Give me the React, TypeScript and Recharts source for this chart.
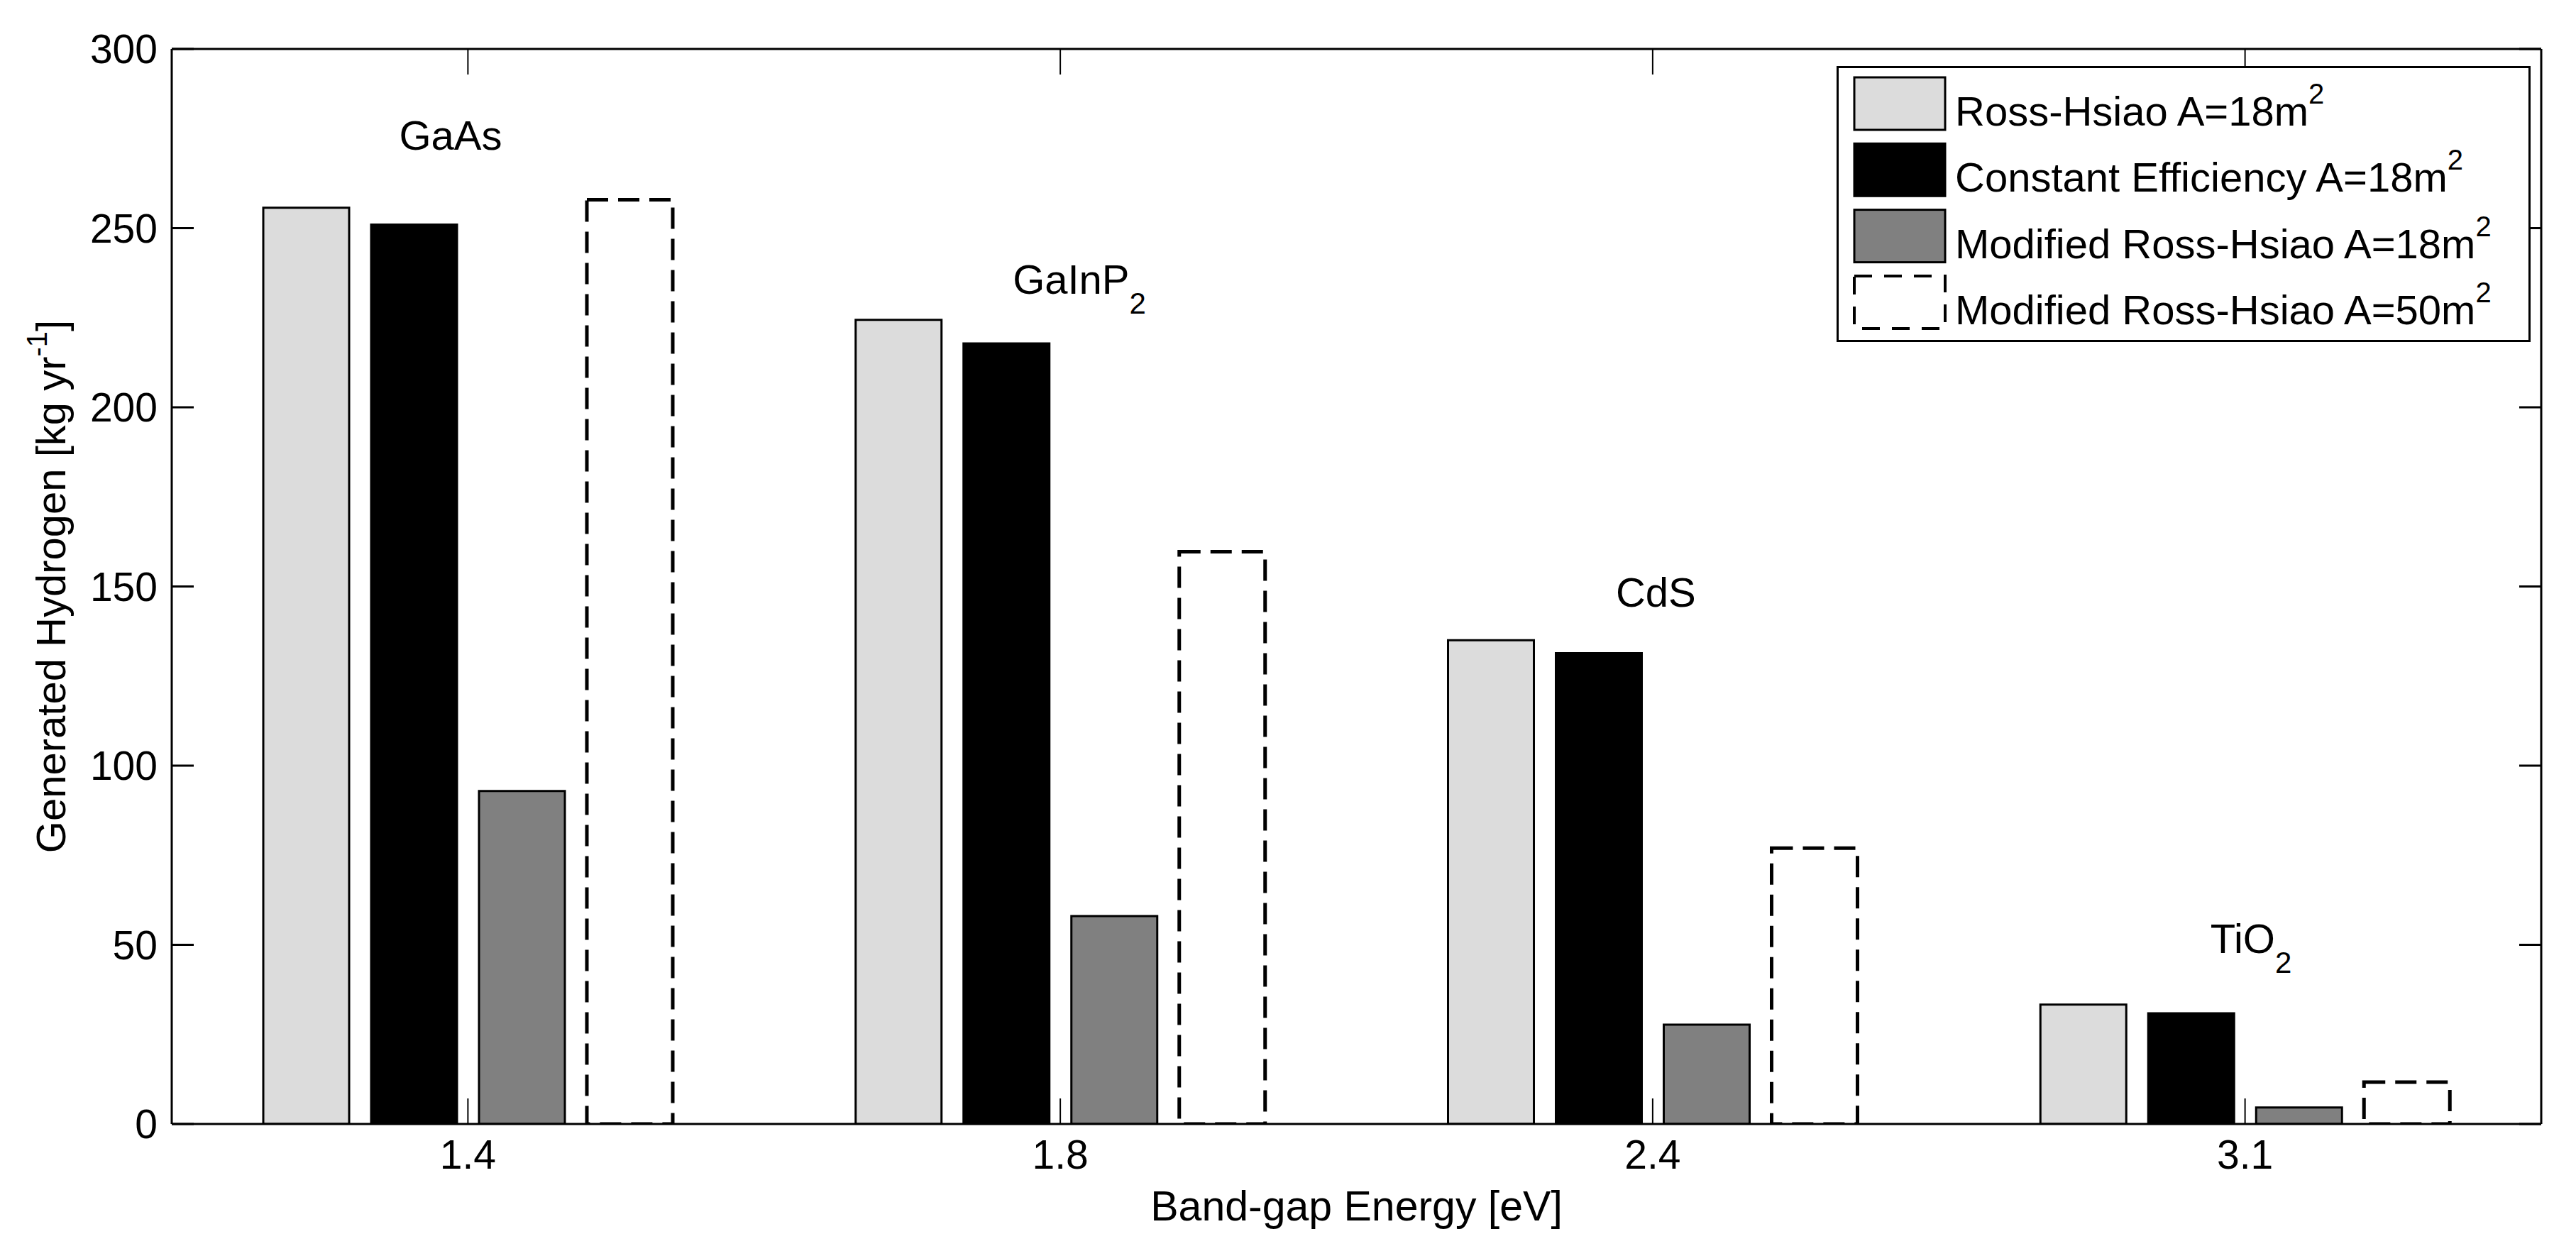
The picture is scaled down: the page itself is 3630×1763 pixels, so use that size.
import React from 'react';
import { BarChart, Bar, XAxis, YAxis, ReferenceDot, Label } from 'recharts';

// ---------- data ----------
const bandGaps = ['1.4', '1.8', '2.4', '3.1'];
const rossHsiao18 = [255.7, 224.4, 135.0, 33.3];
const constantEfficiency18 = [251.0, 217.8, 131.4, 30.9];
const modifiedRossHsiao18 = [92.9, 58.0, 27.7, 4.6];
const modifiedRossHsiao50 = [257.9, 159.7, 77.0, 11.7];
const yTicks = [0, 50, 100, 150, 200, 250, 300];

const materials = ['GaAs', 'GaInP', 'CdS', 'TiO'];
const materialSubscripts = ['', '2', '', '2'];
const materialLabelLevel = [271.9, 231.6, 144.3, 47.8];

const seriesKeys = ['rh18', 'ce18', 'mrh18', 'mrh50'];
const seriesNames = [
  'Ross-Hsiao A=18m',
  'Constant Efficiency A=18m',
  'Modified Ross-Hsiao A=18m',
  'Modified Ross-Hsiao A=50m',
];
const seriesSuperscripts = ['2', '2', '2', '2'];
const xLabel = 'Band-gap Energy [eV]';
const yLabelMain = 'Generated Hydrogen [kg yr';
const yLabelSup = '-1';
const yLabelEnd = ']';

const rows = bandGaps.map((g, i) => ({
  gap: g,
  rh18: rossHsiao18[i],
  ce18: constantEfficiency18[i],
  mrh18: modifiedRossHsiao18[i],
  mrh50: modifiedRossHsiao50[i],
}));

// ---------- styles / layout ----------
const FONT = '"Liberation Sans", Arial, Helvetica, sans-serif';
const W = 3630;
const H = 1763;
const styles = [
  { fill: '#dcdcdc', stroke: '#000', strokeWidth: 3, dash: undefined as string | undefined },
  { fill: '#000000', stroke: '#000', strokeWidth: 3, dash: undefined as string | undefined },
  { fill: '#808080', stroke: '#000', strokeWidth: 3, dash: undefined as string | undefined },
  { fill: '#ffffff', stroke: '#000', strokeWidth: 5, dash: '30 14' },
];
const annotationDx = [-97, -67, -52, -49];

const LeftTick = (props: any) => {
  const { x, y, payload } = props;
  return (
    <g>
      <line x1={x} y1={y} x2={x + 31} y2={y} stroke="#000" strokeWidth={3} />
      <text x={x - 20} y={y + 20} textAnchor="end" fontSize={57} fontFamily={FONT} fill="#000">
        {payload.value}
      </text>
    </g>
  );
};

const RightTick = (props: any) => {
  const { x, y } = props;
  return <line x1={x} y1={y} x2={x - 31} y2={y} stroke="#000" strokeWidth={3} />;
};

const BottomTick = (props: any) => {
  const { x, y, payload } = props;
  return (
    <g>
      <line x1={x} y1={y} x2={x} y2={y - 36} stroke="#000" strokeWidth={2} />
      <text x={x} y={y + 63} textAnchor="middle" fontSize={57} fontFamily={FONT} fill="#000">
        {payload.value}
      </text>
    </g>
  );
};

const TopTick = (props: any) => {
  const { x, y } = props;
  return <line x1={x} y1={y} x2={x} y2={y + 36} stroke="#000" strokeWidth={2} />;
};

const XLabelContent = (props: any) => {
  const vb = props.viewBox || {};
  return (
    <text x={vb.x + vb.width / 2} y={vb.y + 136} textAnchor="middle" fontSize={59} fontFamily={FONT} fill="#000">
      {xLabel}
    </text>
  );
};

const YLabelContent = (props: any) => {
  const vb = props.viewBox || {};
  const cx = vb.x + vb.width - 150;
  const cy = vb.y + vb.height / 2;
  return (
    <text
      x={cx}
      y={cy}
      transform={`rotate(-90 ${cx} ${cy})`}
      textAnchor="middle"
      fontSize={58}
      fontFamily={FONT}
      fill="#000"
    >
      {yLabelMain}
      <tspan dy={-26} fontSize={40}>{yLabelSup}</tspan>
      <tspan dy={26}>{yLabelEnd}</tspan>
    </text>
  );
};

const Annotation = (i: number) => (p: any) => (
  <text x={p.cx + annotationDx[i]} y={p.cy} fontSize={58} fontFamily={FONT} fill="#000">
    {materials[i]}
    {materialSubscripts[i] ? (
      <tspan dy={28} fontSize={42}>
        {materialSubscripts[i]}
      </tspan>
    ) : null}
  </text>
);

const LegendBox = () => {
  const left = 2588;
  const top = 93;
  const w = 978;
  const h = 389;
  return (
    <svg
      width={w}
      height={h}
      style={{ position: 'absolute', left, top, overflow: 'visible' }}
    >
      <rect x={1.5} y={1.5} width={w - 3} height={h - 3} fill="#fff" stroke="#000" strokeWidth={3} />
      {seriesNames.map((name, i) => {
        const st = styles[i];
        const sy = 16 + i * 93.3;
        return (
          <g key={name}>
            <rect
              x={25}
              y={sy}
              width={128}
              height={74}
              fill={st.fill}
              stroke="#000"
              strokeWidth={st.dash ? 4 : 3}
              strokeDasharray={st.dash ? '25 17' : undefined}
            />
            <text x={167} y={sy + 68} fontSize={58} fontFamily={FONT} fill="#000">
              {name}
              <tspan dy={-31} fontSize={40}>
                {seriesSuperscripts[i]}
              </tspan>
            </text>
          </g>
        );
      })}
    </svg>
  );
};

export default function App() {
  return (
    <div style={{ position: 'absolute', left: 0, top: 0, width: W, height: H, background: '#fff' }}>
      <BarChart
        width={W}
        height={H}
        data={rows}
        margin={{ top: 68, right: 48, bottom: 178, left: 241 }}
        barSize={121}
        barGap={31}
      >
        <XAxis
          dataKey="gap"
          height={1}
          tickSize={0}
          tickMargin={0}
          tickLine={false}
          interval={0}
          tick={<BottomTick />}
          axisLine={{ stroke: '#000', strokeWidth: 3 }}
        >
          <Label content={<XLabelContent />} />
        </XAxis>
        <XAxis
          xAxisId="top"
          orientation="top"
          dataKey="gap"
          height={1}
          tickSize={0}
          tickMargin={0}
          tickLine={false}
          interval={0}
          tick={<TopTick />}
          axisLine={{ stroke: '#000', strokeWidth: 3 }}
        />
        <YAxis
          type="number"
          domain={[0, 300]}
          ticks={yTicks}
          width={1}
          tickSize={0}
          tickMargin={0}
          tickLine={false}
          interval={0}
          tick={<LeftTick />}
          axisLine={{ stroke: '#000', strokeWidth: 3 }}
          allowDataOverflow
        >
          <Label content={<YLabelContent />} />
        </YAxis>
        <YAxis
          yAxisId="right"
          orientation="right"
          type="number"
          domain={[0, 300]}
          ticks={yTicks}
          width={1}
          tickSize={0}
          tickMargin={0}
          tickLine={false}
          interval={0}
          tick={<RightTick />}
          axisLine={{ stroke: '#000', strokeWidth: 3 }}
          allowDataOverflow
        />
        {seriesKeys.map((k, i) => (
          <Bar
            key={k}
            dataKey={k}
            name={seriesNames[i]}
            fill={styles[i].fill}
            stroke={styles[i].stroke}
            strokeWidth={styles[i].strokeWidth}
            strokeDasharray={styles[i].dash}
            isAnimationActive={false}
          />
        ))}
        {materials.map((m, i) => (
          <ReferenceDot
            key={m}
            x={bandGaps[i]}
            y={materialLabelLevel[i]}
            r={0}
            isFront
            shape={Annotation(i)}
          />
        ))}
      </BarChart>
      <LegendBox />
    </div>
  );
}
